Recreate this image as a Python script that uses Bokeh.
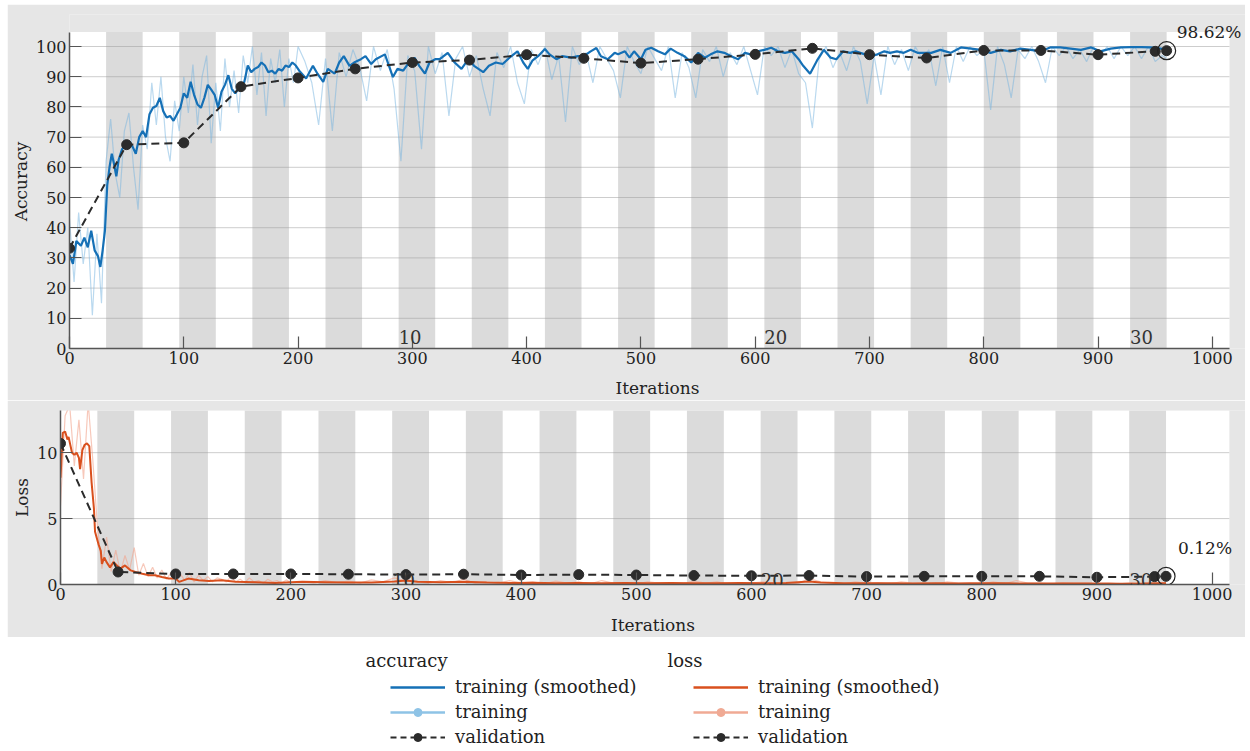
from bokeh.plotting import figure
from bokeh.models import Label, Legend, LegendItem, ColumnDataSource, Range1d
from bokeh.embed import file_html
from bokeh.resources import INLINE

# ---------------- data ----------------
iters_per_epoch = 32
n_epochs = 30
label_epochs = [10, 20, 30]
x_ticks = [0, 100, 200, 300, 400, 500, 600, 700, 800, 900, 1000]
acc_ticks = [0, 10, 20, 30, 40, 50, 60, 70, 80, 90, 100]
loss_ticks = [0, 5, 10]

# smoothed training accuracy
acc_sm_iter = [0, 3, 6, 10, 13, 16, 19, 22, 25, 27,
               29, 31, 33, 35, 37, 39, 41, 43, 46, 49,
               52, 55, 58, 61, 64, 67, 70, 73, 76, 79,
               82, 85, 88, 91, 94, 97, 100, 103, 106, 109,
               112, 115, 118, 121, 124, 127, 130, 133, 136, 139,
               142, 145, 148, 150, 153, 156, 159, 162, 165, 168,
               171, 174, 177, 180, 183, 186, 189, 192, 195, 198,
               201,
               207, 213, 217, 222, 226, 232, 236, 240, 245, 249,
               255, 259, 264, 268, 276, 279, 283, 287, 292, 296,
               302, 306, 311, 315, 320, 324, 331, 337, 343, 349,
               354, 362, 367, 373, 379, 385, 392, 397, 401, 405,
               410, 416, 420, 426, 431, 439, 445, 450, 456, 461,
               465, 471, 477,
               480, 486, 490, 494, 500, 504, 509, 515, 521, 526,
               532, 538, 544, 550, 556, 561, 567, 573, 579, 585,
               591, 596, 602, 608, 614, 620, 626, 632, 638, 642,
               648, 654, 660, 666, 671, 677, 683, 688, 696, 701,
               707, 713, 718, 724, 730, 736, 742,
               754, 762, 771, 780, 789, 797, 806, 815, 823, 832,
               841, 850, 858, 867, 876, 885, 894, 902, 911, 920,
               929, 938, 946, 955, 960]
acc_sm = [31, 28, 35.6, 34, 36.7, 33.5, 39, 32.5, 30.5, 27,
          32.5, 39, 54, 60, 64.5, 61, 57, 62.5, 66, 67.5,
          68.5, 67, 64.5, 70, 72, 70, 77.6, 79.7, 80.3, 83,
          78.6, 76.5, 77, 75.4, 77.6, 79.7, 84.5, 83, 88.3, 84,
          80.8, 79.7, 83, 87.3, 85.7, 84, 79.7, 85, 87.3, 90.5,
          86, 84.5, 86, 87.3, 88.3, 93.7, 91.5, 92.6, 93.2, 94.7,
          93.7, 91.5, 92, 91, 92.6, 92, 93.7, 93.2, 94.7, 93.7,
          92,
          89.4, 93.6, 91, 88.3, 92.6, 91, 94.7, 96.8, 93.6, 94.7,
          95.8, 96.8, 94.2, 95.8, 97.4, 94.2, 89.9, 92.6, 92, 94.2,
          96.3, 93.6, 91, 94.7, 95.8, 95.8, 97.9, 94.7, 92.6, 95.8,
          93.6, 91.5, 93.6, 94.7, 94.2, 96.3, 98.4, 94.7, 92.6, 95.3,
          96.8, 99.2, 97.4, 95.8, 96.8, 96.3, 96.8, 96.8, 98.4, 99.5,
          96.8, 95.8, 97.9,
          97.4, 98.4, 96.3, 98.4, 95.8, 98.9, 99.6, 98.4, 97.4, 99.3,
          97.9, 96.8, 94.7, 97.9, 96.3, 97.4, 98.4, 97.9, 96.8, 95.8,
          97.9, 97.4, 98.4, 98.9, 99.6, 98.4, 97.9, 98.4, 95.8, 93.6,
          91, 95.3, 98.9, 96.3, 95.8, 98.4, 97.9, 98.4, 97.4, 96.8,
          97.4, 98.4, 97.9, 98.4, 97.9, 98.9, 97.9,
          97.9, 98.9, 97.9, 99.7, 99.3, 98.9, 97.9, 98.9, 98.4, 99.3,
          98.9, 98.4, 99.7, 99.7, 99.3, 98.9, 99.7, 98.4, 99.3, 99.7,
          99.8, 99.8, 99.7, 99.3, 98.9]

# raw training accuracy
acc_raw_iter = list(range(0, 201, 4)) + list(range(206, 957, 6)) + [960]
acc_raw = [43, 22, 45, 28, 40, 11, 38, 15, 62, 76,
           58, 50, 72, 78, 60, 46, 74, 66, 88, 74,
           90, 70, 62, 82, 72, 90, 78, 94, 74, 90,
           97, 68, 88, 72, 96, 80, 92, 78, 97, 88,
           100, 84, 98, 77, 96, 88, 99, 80, 96, 88,
           100,
           95, 88, 74, 96, 72, 98, 90, 99, 93, 82,
           100, 92, 99, 86, 62, 97, 92, 66, 100, 91,
           98, 77, 96, 100, 90, 97, 86, 77, 98, 93,
           100, 88, 81, 99, 94, 100, 89, 97, 75, 100,
           94, 98, 88, 100, 96, 92, 83, 100, 95, 91,
           100, 96, 92, 100, 83, 98, 93, 83, 99, 95,
           100, 90, 98, 94, 100, 92, 84, 100, 97, 100,
           93, 99, 91, 88, 73, 96, 100, 93, 98, 92,
           100, 95, 81, 97, 84, 100, 94, 99, 92, 100,
           96, 99, 87, 100, 88, 100, 95, 100, 97, 99,
           79, 100, 94, 83, 99, 96, 100, 95, 88, 100,
           97, 100, 96, 99, 95, 100, 97, 100, 96, 100,
           97, 100, 96, 100, 95, 97,
           96]

# validation (every 50 iterations + final)
val_iter = [0, 50, 100, 150, 200, 250, 300, 350, 400, 450, 500,
            550, 600, 650, 700, 750, 800, 850, 900, 950, 960]
acc_val = [33.2, 67.5, 68.1, 86.7, 89.6, 92.6, 94.7, 95.5, 97.3, 96.1, 94.5,
           95.8, 97.4, 99.4, 97.3, 96.2, 98.7, 98.7, 97.3, 98.4, 98.62]
loss_val = [10.7, 0.95, 0.8, 0.8, 0.8, 0.78, 0.75, 0.78, 0.72, 0.75, 0.72,
            0.68, 0.66, 0.68, 0.6, 0.62, 0.62, 0.62, 0.55, 0.6, 0.62]

# smoothed training loss
loss_sm_iter = [0, 2, 4, 6, 7, 10, 12, 14, 16, 17,
                19, 21, 23, 25, 27, 29, 30, 33, 35, 36,
                38, 40, 43, 46, 49, 52, 56, 61, 65, 71,
                77, 82, 88, 94, 100, 103, 111, 120, 129, 140,
                152, 169, 186, 210,
                230, 250, 270, 290, 300, 310, 330, 350, 370, 390,
                410, 430, 450, 470, 490, 510, 530, 550, 570, 590,
                610, 630, 650, 660, 680, 700, 720, 740, 760, 780,
                800, 820, 840, 860, 880, 900, 920, 940, 960]
loss_sm = [8.1, 11.5, 11.6, 11, 11.2, 10, 9.85, 10, 9.6, 8.75,
           10.2, 10.6, 10.7, 10.5, 7.75, 5.8, 4.0, 3.05, 2.55, 1.56,
           2.05, 1.7, 1.3, 1.7, 1.45, 1.2, 1.45, 1.07, 0.95, 0.82,
           0.7, 0.7, 0.57, 0.45, 0.45, 0.2, 0.45, 0.32, 0.27, 0.32,
           0.2, 0.18, 0.12, 0.2,
           0.18, 0.15, 0.16, 0.22, 0.3, 0.2, 0.18, 0.2, 0.15, 0.12,
           0.14, 0.1, 0.12, 0.1, 0.11, 0.1, 0.12, 0.09, 0.1, 0.12,
           0.1, 0.11, 0.22, 0.15, 0.1, 0.09, 0.1, 0.08, 0.09, 0.08,
           0.1, 0.09, 0.08, 0.07, 0.08, 0.07, 0.06, 0.07, 0.1]

# raw training loss
loss_raw_iter = list(range(0, 201, 4)) + list(range(210, 961, 10))
loss_raw = [6.0, 12.8, 13.6, 9.0, 12.5, 8.0, 13.8, 9.5, 4.5, 1.2,
            3.6, 1.0, 2.6, 0.9, 2.2, 1.1, 2.8, 0.7, 1.6, 0.6,
            1.3, 0.5, 1.1, 0.4, 0.9, 0.3, 0.8, 0.3, 0.9, 0.2,
            0.7, 0.3, 0.6, 0.2, 0.5, 0.4, 0.2, 0.6, 0.2, 0.4,
            0.15, 0.5, 0.2, 0.3, 0.1, 0.4, 0.2, 0.3, 0.1, 0.35,
            0.15,
            0.2, 0.1, 0.3, 0.15, 0.25, 0.1, 0.35, 0.2, 0.5, 0.25,
            0.2, 0.1, 0.3, 0.15, 0.4, 0.1, 0.2, 0.1, 0.3, 0.1,
            0.2, 0.05, 0.25, 0.1, 0.2, 0.05, 0.3, 0.1, 0.15, 0.05,
            0.2, 0.1, 0.15, 0.05, 0.25, 0.1, 0.2, 0.05, 0.15, 0.1,
            0.2, 0.1, 0.15, 0.05, 0.45, 0.2, 0.1, 0.05, 0.2, 0.1,
            0.15, 0.05, 0.2, 0.1, 0.1, 0.05, 0.2, 0.1, 0.15, 0.05,
            0.2, 0.05, 0.3, 0.1, 0.1, 0.05, 0.15, 0.1, 0.1, 0.05,
            0.1, 0.05, 0.15, 0.05, 0.1, 0.15]

final_acc_text = "98.62%"
final_loss_text = "0.12%"

# ---------------- style ----------------
FONT = "DejaVu Serif"
PANEL = "#e6e6e6"
BLUE = "#1570b6"
LBLUE = "#76b4e0"
RED = "#d9501e"
LRED = "#f1a48c"
VAL = "#2b2b2b"
X_END = 1015         # right edge of the plotting box
X_VIEW = 1029        # visible range (room for the final-value label)
ACC_MAX = 104.8      # top of the accuracy plotting box
ACC_VIEW = 110.6     # visible range (room for the final-value label)
LOSS_MAX = 13.2

band_left = [(e - 1) * iters_per_epoch for e in range(2, n_epochs + 1, 2)]
band_right = [e * iters_per_epoch for e in range(2, n_epochs + 1, 2)]


def make_panel(height, ybox, yview, yticks, ylabel, bl, bt, bb, xlab_standoff, margin):
    p = figure(width=1238, height=height, x_range=Range1d(0, X_VIEW),
               y_range=Range1d(0, yview), toolbar_location=None,
               output_backend="svg", min_border_left=bl, min_border_right=0,
               min_border_top=bt, min_border_bottom=bb, margin=margin)
    p.outline_line_color = None
    p.background_fill_color = PANEL
    p.border_fill_color = PANEL
    # white plotting box
    p.quad(left=0, right=X_END, bottom=0, top=ybox, fill_color="white",
           line_color=None)
    p.grid.visible = False
    # horizontal grid lines restricted to the plotting box
    p.segment(x0=0, x1=X_END, y0=yticks, y1=yticks, line_color="#cdcdcd",
              line_width=1)
    p.xaxis.ticker = x_ticks
    p.yaxis.ticker = yticks
    p.yaxis.bounds = (0, ybox)
    p.xaxis.bounds = (0, X_END)
    for ax in p.axis:
        ax.axis_line_color = "#555555"
        ax.axis_line_width = 1.5
        ax.major_tick_line_color = "#555555"
        ax.major_tick_line_width = 1.2
        ax.major_tick_in = 12
        ax.major_tick_out = 0
        ax.minor_tick_line_color = None
        ax.major_label_text_font = FONT
        ax.major_label_text_font_size = "16px"
        ax.major_label_text_color = "#222222"
        ax.major_label_standoff = 3
        ax.axis_label_text_font = FONT
        ax.axis_label_text_font_size = "17px"
        ax.axis_label_text_font_style = "normal"
        ax.axis_label_text_color = "#222222"
    p.xaxis.axis_label = "Iterations"
    p.xaxis.axis_label_standoff = xlab_standoff
    p.yaxis.axis_label = ylabel
    p.yaxis.axis_label_standoff = 2
    p.quad(left=band_left, right=band_right, bottom=0, top=ybox,
           fill_color="#9a9a9a", fill_alpha=0.36, line_color=None)
    return p


def add_epoch_labels(p, yoff):
    for e in label_epochs:
        p.add_layout(Label(x=(e - 1) * iters_per_epoch, y=0, y_offset=yoff,
                           text=str(e), text_font=FONT, text_font_size="18px",
                           text_color="#333333", text_baseline="alphabetic"))


# ---------------- accuracy panel ----------------
top = make_panel(396, ACC_MAX, ACC_VIEW, acc_ticks, "Accuracy", 61, 10, 43, 11, (4, 0, 0, 7))
top.line(acc_raw_iter, acc_raw, line_color=LBLUE, line_alpha=0.5, line_width=1.2)
top.line(acc_sm_iter, acc_sm, line_color=BLUE, line_width=2.2)
top.line(val_iter, acc_val, line_color=VAL, line_width=2, line_dash="8 5")
top.scatter(val_iter, acc_val, size=10, fill_color=VAL, line_color=VAL)
top.scatter([val_iter[-1]], [acc_val[-1]], size=18, fill_color=None,
            line_color="#222222", line_width=1.2)
top.add_layout(Label(x=val_iter[-1], y=acc_val[-1], x_offset=10, y_offset=19,
                     text=final_acc_text, text_font=FONT, text_font_size="17px",
                     text_color="#222222", text_baseline="middle"))
add_epoch_labels(top, 12)

# ---------------- loss panel ----------------
bot = make_panel(237, LOSS_MAX, LOSS_MAX, loss_ticks, "Loss", 53, 10, 49, 12, (0, 0, 0, 7))
bot.line(loss_raw_iter, loss_raw, line_color=LRED, line_alpha=0.6, line_width=1.2)
bot.line(loss_sm_iter, loss_sm, line_color=RED, line_width=2)
bot.line(val_iter, loss_val, line_color=VAL, line_width=2, line_dash="8 5")
bot.scatter(val_iter, loss_val, size=10, fill_color=VAL, line_color=VAL)
bot.scatter([val_iter[-1]], [loss_val[-1]], size=18, fill_color=None,
            line_color="#222222", line_width=1.2)
bot.add_layout(Label(x=val_iter[-1], y=loss_val[-1], x_offset=12, y_offset=28,
                     text=final_loss_text, text_font=FONT, text_font_size="17px",
                     text_color="#222222", text_baseline="middle"))
add_epoch_labels(bot, 5)

# ---------------- legend panel ----------------
LW, LH = 1245, 111
lf = figure(width=LW, height=LH, x_range=Range1d(0, LW), y_range=Range1d(0, LH),
            toolbar_location=None, output_backend="svg", min_border=0)
lf.axis.visible = False
lf.grid.visible = False
lf.outline_line_color = None
lf.background_fill_color = "white"
lf.border_fill_color = "white"

proxy = dict(x=[-100], y=[-100])   # off-screen proxies for legend glyphs


def legend_block(color_sm, color_raw, title, title_x, glyph_x):
    r_sm = lf.line("x", "y", source=ColumnDataSource(proxy), line_color=color_sm, line_width=2.5)
    r_raw_l = lf.line("x", "y", source=ColumnDataSource(proxy), line_color=color_raw, line_width=2.5)
    r_raw_m = lf.scatter("x", "y", source=ColumnDataSource(proxy), size=10,
                         fill_color=color_raw, line_color=color_raw)
    r_val_l = lf.line("x", "y", source=ColumnDataSource(proxy), line_color=VAL,
                      line_width=2, line_dash="6 4")
    r_val_m = lf.scatter("x", "y", source=ColumnDataSource(proxy), size=10,
                         fill_color=VAL, line_color=VAL)
    leg = Legend(items=[LegendItem(label="training (smoothed)", renderers=[r_sm]),
                        LegendItem(label="training", renderers=[r_raw_l, r_raw_m]),
                        LegendItem(label="validation", renderers=[r_val_l, r_val_m])],
                 location=(glyph_x, 1), orientation="vertical",
                 glyph_width=55, glyph_height=20, label_height=20, spacing=4,
                 padding=0, margin=0, label_standoff=10,
                 border_line_color=None, background_fill_alpha=0,
                 label_text_font=FONT, label_text_font_size="18px",
                 label_text_color="#222222")
    lf.add_layout(leg)
    lf.add_layout(Label(x=title_x, y=88, text=title, text_font=FONT,
                        text_font_size="18px", text_color="#222222",
                        text_baseline="middle"))


legend_block(BLUE, "#8ec3e6", "accuracy", 365, 390)
legend_block(RED, "#f0aa94", "loss", 667, 693)

open("out.html", "w").write(file_html([top, bot, lf], INLINE))
